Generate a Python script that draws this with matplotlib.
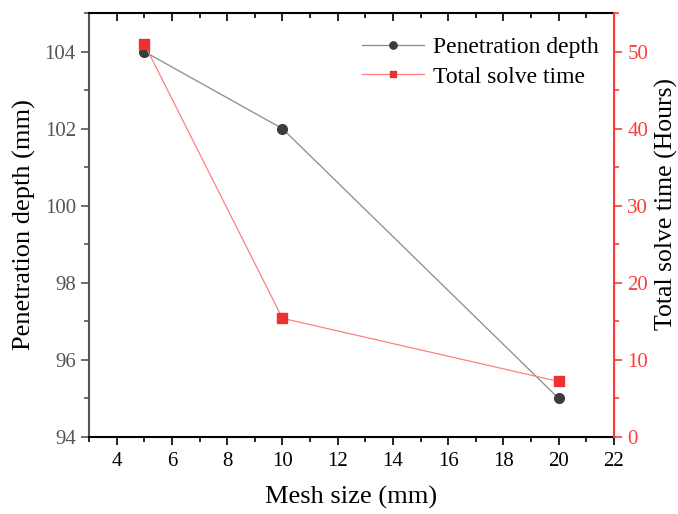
import matplotlib.pyplot as plt
from matplotlib.ticker import MultipleLocator

plt.rcParams['font.family'] = ['Liberation Serif', 'DejaVu Serif']

# datos
mesh_size = [5, 10, 20]
depth = [104.0, 102.0, 95.0]
solve_time = [51.0, 15.4, 7.2]

fig = plt.figure(figsize=(6.78, 5.14), dpi=100)
ax = fig.add_axes([89/678, 1-437/514, (614-89)/678, (437-13)/514])
ax2 = ax.twinx()

l1, = ax.plot(mesh_size, depth, color='#8a8a8a', lw=0.9, marker='o', ms=7,
              mfc='#3c3c3c', mec='#3c3c3c', label='Penetration depth', zorder=3)
l2, = ax2.plot(mesh_size, solve_time, color='#ff8080', lw=0.9, marker='s', ms=6.5,
               mfc='#ee3030', mec='#ee3030', label='Total solve time')

ax.set_xlim(3, 22)
ax.set_ylim(94, 105)
ax2.set_ylim(0, 55)

ax.xaxis.set_major_locator(MultipleLocator(2))
ax.xaxis.set_minor_locator(MultipleLocator(1))
ax.yaxis.set_major_locator(MultipleLocator(2))
ax.yaxis.set_minor_locator(MultipleLocator(1))
ax2.yaxis.set_major_locator(MultipleLocator(10))
ax2.yaxis.set_minor_locator(MultipleLocator(5))

gray = '#555555'
red = '#ff3b3b'
ax.tick_params(axis='x', which='both', direction='out', top=True, labelsize=15, colors='black', pad=5)
ax.tick_params(axis='x', which='major', length=6, width=1.2)
ax.tick_params(axis='x', which='minor', length=3.5, width=1.2)
ax.tick_params(axis='y', which='both', direction='out', labelsize=15, colors=gray, width=1.2)
ax.tick_params(axis='y', which='major', length=6)
ax.tick_params(axis='y', which='minor', length=3.5)
ax2.tick_params(axis='y', which='both', direction='out', labelsize=15, colors=red, width=1.2)
ax2.tick_params(axis='y', which='major', length=6)
ax2.tick_params(axis='y', which='minor', length=3.5)

for s in ['top', 'bottom']:
    ax.spines[s].set_linewidth(1.5)
    ax.spines[s].set_color('black')
ax.spines['left'].set_color(gray)
ax.spines['left'].set_linewidth(1.5)
ax2.spines['right'].set_color(red)
ax2.spines['right'].set_linewidth(1.5)
ax2.spines['left'].set_visible(False)
ax2.spines['top'].set_visible(False)
ax2.spines['bottom'].set_visible(False)

# ticks del borde superior hacia dentro
for t in ax.xaxis.get_major_ticks() + ax.xaxis.get_minor_ticks():
    t.tick2line.set_marker(3)

ax.set_xlabel('Mesh size (mm)', fontsize=19)
ax.set_ylabel('Penetration depth (mm)', fontsize=19)
ax2.set_ylabel('Total solve time (Hours)', fontsize=18.5)
ax.xaxis.set_label_coords(0.5, -0.116)
ax.yaxis.set_label_coords(-0.101, 0.5)
ax2.yaxis.set_label_coords(1.077, 0.55)

ax.legend(handles=[l1, l2], loc='upper right', bbox_to_anchor=(1.012, 0.995), frameon=False,
          fontsize=17, handlelength=2.6, labelspacing=0.35, handletextpad=0.4,
          markerscale=0.75)

fig.savefig('out.png', dpi=100)
